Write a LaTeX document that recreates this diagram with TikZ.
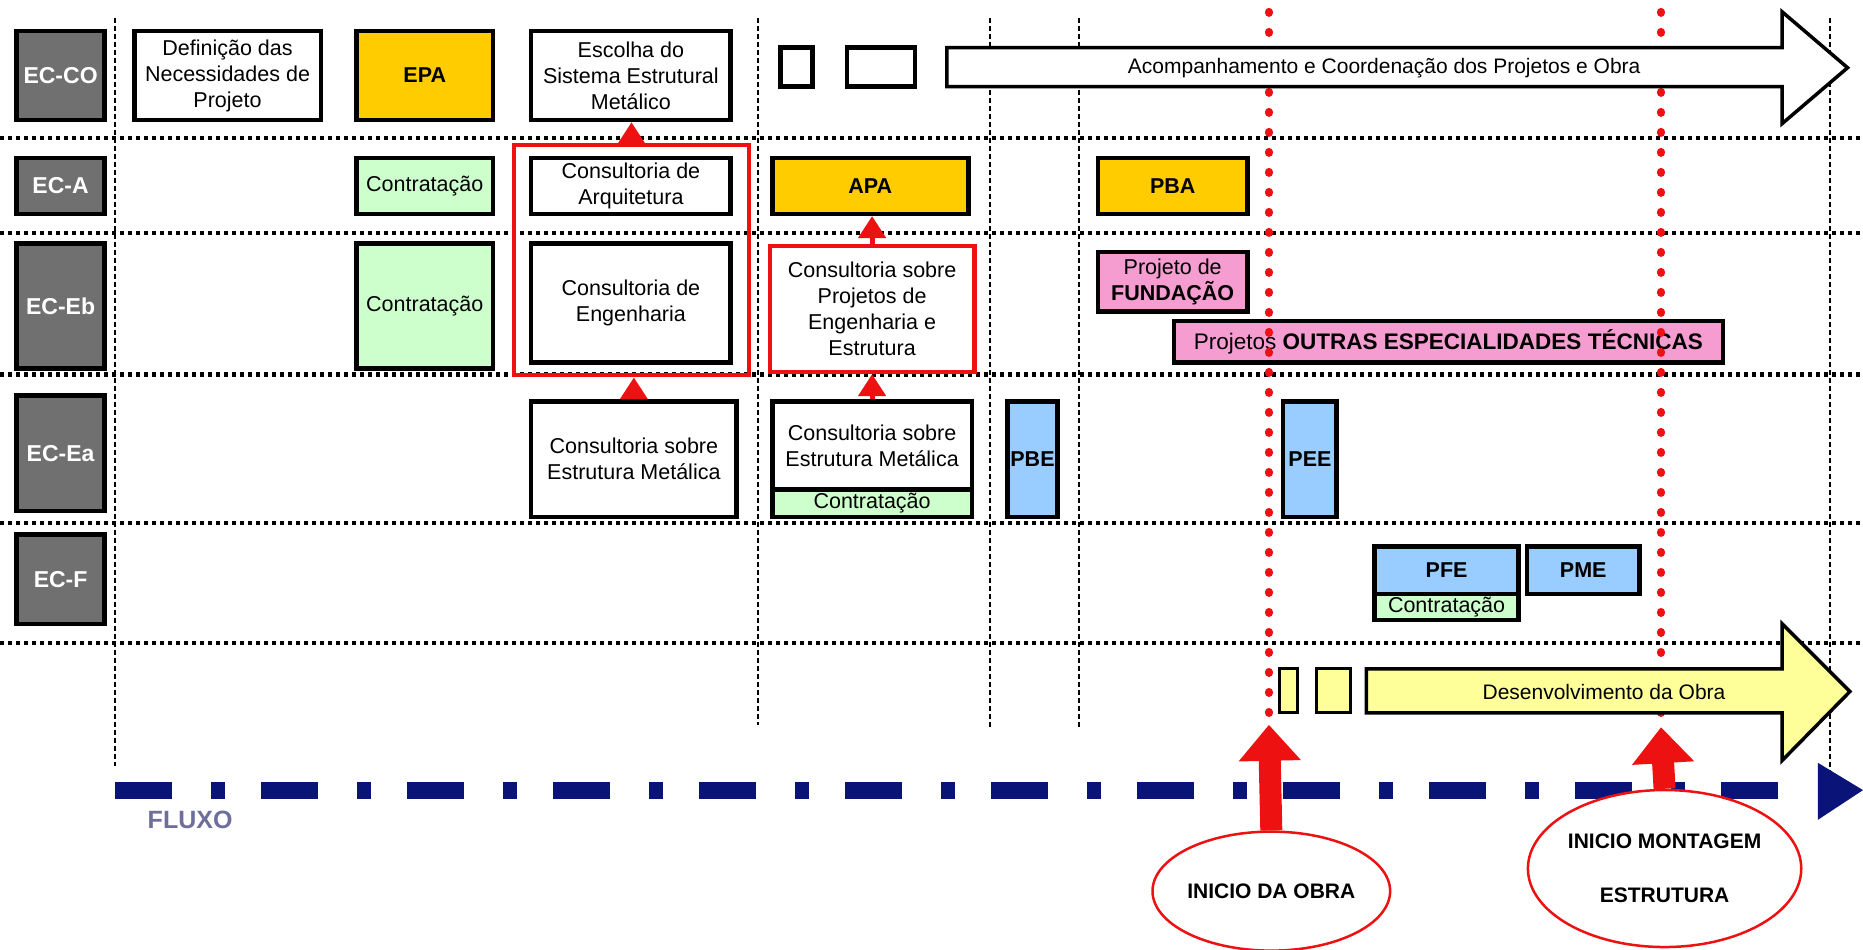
\documentclass[tikz,border=0pt]{standalone}
\usepackage{fontspec}
\setmainfont{Liberation Sans}
\usetikzlibrary{arrows.meta,shapes.geometric}

\definecolor{gold}{HTML}{FFCC00}
\definecolor{mint}{HTML}{CCFFCC}
\definecolor{sky}{HTML}{99CCFF}
\definecolor{rose}{HTML}{F59CD0}
\definecolor{cream}{HTML}{FFFF99}
\definecolor{slate}{HTML}{707070}
\definecolor{navyblue}{HTML}{0A1478}
\definecolor{fluxgray}{HTML}{6E6E9C}
\definecolor{alertred}{HTML}{EE1111}

\tikzset{
  % a rectangle given by its corners (x1,y1) (x2,y2) in picture units
  span/.style n args={4}{at={({(#1+#3)/2},{(#2+#4)/2})}, anchor=center,
    minimum width={(#3-#1)*1.188pt}, minimum height={(#4-#2)*1.188pt}},
  box/.style={draw=black, line width=4.5pt, fill=white, inner sep=0pt, align=center,
              font=\fontsize{21.5}{26}\selectfont},
  boldbox/.style={box, font=\fontsize{21.5}{26}\selectfont\bfseries},
  lane/.style={box, fill=slate, text=white, font=\fontsize{23}{26}\selectfont\bfseries},
  frame/.style={draw=alertred, line width=4pt, inner sep=0pt},
  rowline/.style={line width=4.5pt, dash pattern=on 4pt off 4pt},
  colline/.style={line width=2.2pt, dash pattern=on 5pt off 3pt},
  reddots/.style={alertred, line width=8pt, line cap=round, dash pattern=on 1pt off 19pt},
  redarr/.style={alertred, line width=5pt, -{Triangle[length=22pt,width=27pt]}},
  bigred/.style={alertred, line width=22pt, -{Triangle[length=36pt,width=60pt]}},
  bigarrow/.style={draw=black, line width=3.5pt, line join=miter},
  milestone/.style={ellipse, draw=alertred, line width=2.5pt, fill=white, align=center,
                    inner sep=0pt, font=\fontsize{21}{54}\selectfont\bfseries},
  caption/.style={inner sep=0pt, font=\fontsize{21}{25}\selectfont},
}

\begin{document}
\begin{tikzpicture}[x=1.188pt, y=-1.188pt]
\useasboundingbox[fill=white] (0,0) rectangle (1568,799);

% column separators
\draw[colline] (97,15) -- (97,645);
\draw[colline] (638,15) -- (638,610);
\draw[colline] (833,15) -- (833,612);
\draw[colline] (908,15) -- (908,612);
\draw[colline] (1540,15) -- (1540,660);

% row separators
\foreach \y in {116,196,315,440,541}
  \draw[rowline] (0,\y) -- (1568,\y);

% lane labels
\node[lane, span={14}{26}{88}{101}]  (ecco) {EC-CO};
\node[lane, span={14}{133}{88}{180}] (eca)  {EC-A};
\node[lane, span={14}{205}{88}{310}] (eceb) {EC-Eb};
\node[lane, span={14}{333}{88}{430}] (ecea) {EC-Ea};
\node[lane, span={14}{450}{88}{525}] (ecf)  {EC-F};

% EC-CO
\node[box, span={113}{26}{270}{101}] (def) {Definição das\\Necessidades de\\Projeto};
\node[boldbox, fill=gold, span={300}{26}{415}{101}] (epa) {EPA};
\node[box, span={447}{26}{615}{101}] (esc) {Escolha do\\Sistema Estrutural\\Metálico};
\node[box, span={657}{40}{684}{73}] (sq1) {};
\node[box, span={713}{40}{770}{73}] (sq2) {};

% EC-A
\node[box, fill=mint, span={300}{133}{415}{180}] (ctA) {Contratação};
\node[frame, span={433}{122}{630}{316}] (frameA) {};
\node[box, span={447}{133}{615}{180}] (carq) {Consultoria de\\Arquitetura};
\node[boldbox, fill=gold, span={650}{133}{815}{180}] (apa) {APA};
\node[boldbox, fill=gold, span={924}{133}{1050}{180}] (pba) {PBA};

% EC-Eb
\node[box, fill=mint, span={300}{205}{415}{310}] (ctEb) {Contratação};
\node[box, span={447}{205}{615}{305}] (ceng) {Consultoria de\\Engenharia};
\node[box, draw=alertred, span={648}{207}{820}{313}] (cproj)
  {Consultoria sobre\\Projetos de\\Engenharia e\\Estrutura};
\node[box, fill=rose, span={924}{212}{1050}{262}] (fund) {Projeto de\\\textbf{FUNDAÇÃO}};
\node[box, fill=rose, span={988}{270}{1450}{305}, font=\fontsize{22.5}{25}\selectfont] (outras)
  {Projetos \textbf{OUTRAS ESPECIALIDADES TÉCNICAS}};

% EC-Ea
\node[box, span={447}{338}{620}{435}] (csemA) {Consultoria sobre\\Estrutura Metálica};
\node[box, span={650}{338}{818}{412}] (csemB) {Consultoria sobre\\Estrutura Metálica};
\node[box, fill=mint, span={650}{412}{818}{435}] (ctB) {Contratação};
\node[boldbox, fill=sky, span={848}{338}{890}{435}] (pbe) {PBE};
\node[boldbox, fill=sky, span={1080}{338}{1125}{435}] (pee) {PEE};

% EC-F
\node[boldbox, fill=sky, span={1157}{460}{1278}{500}] (pfe) {PFE};
\node[box, fill=mint, span={1157}{500}{1278}{522}] (ctF) {Contratação};
\node[boldbox, fill=sky, span={1285}{460}{1380}{500}] (pme) {PME};

% flow between consultancy steps
\draw[redarr] (frameA.north) -- (frameA.north |- esc.south);
\draw[redarr] (csemA.north) -- (csemA.north |- frameA.south);
\draw[redarr] (cproj.north) -- (cproj.north |- apa.south);
\draw[redarr] (csemB.north) -- (csemB.north |- cproj.south);

% milestone markers
\coordinate (m1top) at (1068,10);
\coordinate (m1tip) at (1068,610);
\coordinate (m2top) at (1398,10);
\coordinate (m2tip) at (1398,612);
\draw[reddots] (m1top) -- (m1tip);
\draw[reddots] (m2top) -- (m2tip);

% coordination arrow
\draw[bigarrow, fill=white] (797,40) -- (1500,40) -- (1500,10) -- (1555,57)
  -- (1500,104) -- (1500,73) -- (797,73) -- cycle;
\node[caption] (acomp) at (1165,57) {Acompanhamento e Coordenação dos Projetos e Obra};

% construction arrow
\node[box, fill=cream, line width=3pt, span={1077}{563}{1092}{600}] (sq3) {};
\node[box, fill=cream, line width=3pt, span={1108}{563}{1137}{600}] (sq4) {};
\draw[bigarrow, fill=cream] (1150,563) -- (1500,563) -- (1500,525) -- (1557,582)
  -- (1500,640) -- (1500,600) -- (1150,600) -- cycle;
\node[caption] (desenv) at (1350,582) {Desenvolvimento da Obra};

% flow axis
\draw[navyblue, line width=17pt, dash pattern=on 57pt off 39pt on 14pt off 36pt]
  (97,665) -- (1503,665);
\fill[navyblue] (1530,642) -- (1568,665) -- (1530,690) -- cycle;
\node[inner sep=0pt, text=fluxgray, font=\fontsize{25}{28}\selectfont\bfseries]
  (fluxo) at (160,690) {FLUXO};

% milestones
\node[milestone, minimum width=233pt, minimum height=119pt] (obra) at (1070,750)
  {INICIO DA OBRA};
\node[milestone, minimum width=264pt, minimum height=157pt] (montagem) at (1401,731)
  {INICIO MONTAGEM\\ESTRUTURA};
\draw[bigred] (obra.north) -- (m1tip);
\draw[bigred] (montagem.north) -- (m2tip);
\end{tikzpicture}
\end{document}
